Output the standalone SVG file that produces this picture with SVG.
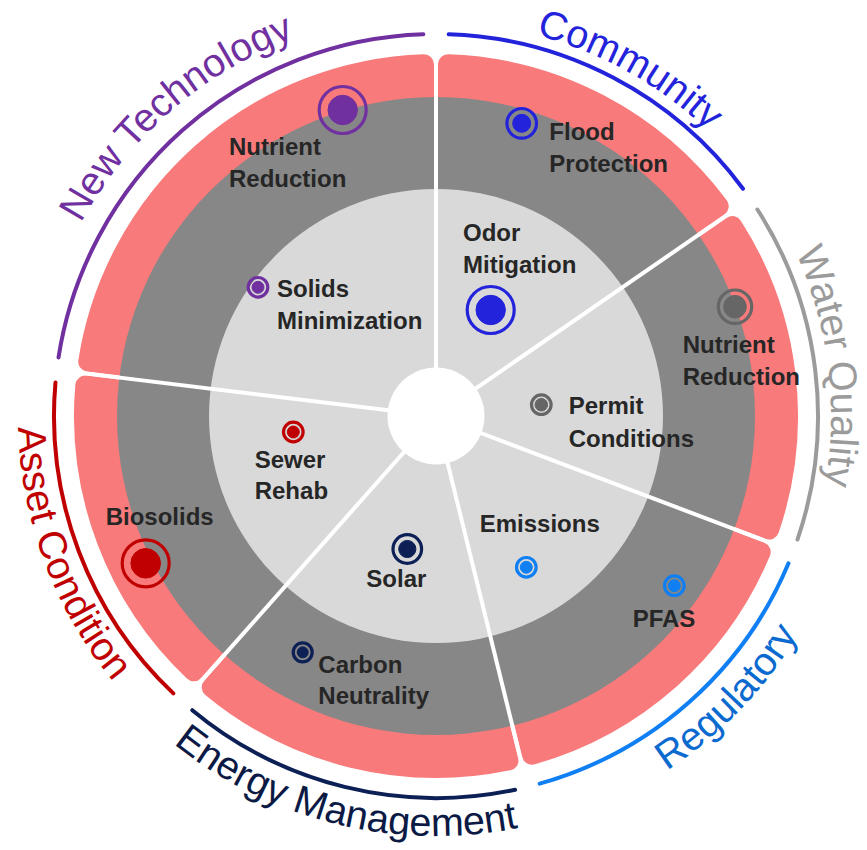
<svg xmlns="http://www.w3.org/2000/svg" xmlns:xlink="http://www.w3.org/1999/xlink" width="867" height="850" viewBox="0 0 867 850">
  <style>
    .wedge { fill: #F97A7A; stroke: #F97A7A; stroke-width: 20; stroke-linejoin: round; }
    .divider { stroke: #FFFFFF; stroke-width: 4; }
    .band { fill: none; stroke-width: 4; stroke-linecap: round; }
    .cat { font-family: "Liberation Sans", Arial, sans-serif; font-size: 39.5px; }
    .lbl { font-family: "Liberation Sans", Arial, sans-serif; font-size: 24px; font-weight: bold; fill: #262626; }
    .ring { fill: none; stroke-width: 3.2; }
    .dot { stroke: none; }
    .nt { fill: #7030A0; stroke: #7030A0; }
    .cm { fill: #2323DC; stroke: #2323DC; }
    .wq { fill: #666666; stroke: #666666; }
    .rg { fill: #0F7FF3; stroke: #0F7FF3; }
    .em { fill: #0C2056; stroke: #0C2056; }
    .ac { fill: #C00000; stroke: #C00000; }
  </style>
  <defs>
    <!-- rounded wedge outlines pointing north, origin at the chart centre -->
    <path id="wedge-s" d="M0 -25.82 L152.86 -317.08 A352 352 0 0 0 -152.86 -317.08 Z"/>
    <path id="wedge-l" d="M0 -18.10 L224.30 -271.28 A352 352 0 0 0 -224.30 -271.28 Z"/>
    <!-- text baselines: clockwise over the top, anticlockwise under the bottom -->
    <path id="top-394" d="M43.5 381.66 A394 394 0 0 1 828.5 381.66"/>
    <path id="top-395" d="M42.5 381.57 A395 395 0 0 1 829.5 381.57"/>
    <path id="top-404" d="M33.54 380.79 A404 404 0 0 1 838.46 380.79"/>
    <path id="bot-423" d="M14.61 452.87 A423 423 0 0 0 857.39 452.87"/>
    <path id="bot-420" d="M17.6 452.61 A420 420 0 0 0 854.4 452.61"/>
    <path id="bot-418" d="M19.59 452.43 A418 418 0 0 0 852.41 452.43"/>
  </defs>

  <rect width="867" height="850" fill="#FFFFFF"/>

  <!-- outer priority band, one wedge per category -->
  <g id="wedges">
    <use xlink:href="#wedge-s" class="wedge" transform="translate(436 416) rotate(27.69)"/>
    <use xlink:href="#wedge-s" class="wedge" transform="translate(436 416) rotate(83.08)"/>
    <use xlink:href="#wedge-s" class="wedge" transform="translate(436 416) rotate(138.46)"/>
    <use xlink:href="#wedge-s" class="wedge" transform="translate(436 416) rotate(193.85)"/>
    <use xlink:href="#wedge-s" class="wedge" transform="translate(436 416) rotate(249.23)"/>
    <use xlink:href="#wedge-l" class="wedge" transform="translate(436 416) rotate(318.46)"/>
  </g>

  <!-- middle and inner bands -->
  <g id="bands">
    <circle cx="436" cy="416" r="319" fill="#878787"/>
    <circle cx="436" cy="416" r="227" fill="#D9D9D9"/>
  </g>

  <!-- category dividers and hub -->
  <g id="connectors">
    <line class="divider" x1="436" y1="416" x2="436" y2="50"/>
    <line class="divider" x1="436" y1="416" x2="737.21" y2="208.09"/>
    <line class="divider" x1="436" y1="416" x2="778.22" y2="545.78"/>
    <line class="divider" x1="436" y1="416" x2="523.59" y2="771.36"/>
    <line class="divider" x1="436" y1="416" x2="193.3" y2="689.95"/>
    <line class="divider" x1="436" y1="416" x2="72.67" y2="371.88"/>
    <circle cx="436" cy="416" r="48.5" fill="#FFFFFF"/>
  </g>

  <!-- category arcs and titles -->
  <g id="cat-community">
    <path class="band" stroke="#2323DC" d="M448.67 34.21 A382 382 0 0 1 743.02 188.69"/>
    <text class="cat" fill="#2323DC" transform="rotate(29.2 436 416)"><textPath xlink:href="#top-394" startOffset="50%" text-anchor="middle">Community</textPath></text>
  </g>
  <g id="cat-water-quality">
    <path class="band" stroke="#9B9B9B" d="M757.4 209.54 A382 382 0 0 1 797.47 539.54"/>
    <text class="cat" fill="#9B9B9B" transform="rotate(82.8 436 416)"><textPath xlink:href="#top-395" startOffset="50%" text-anchor="middle">Water Quality</textPath></text>
  </g>
  <g id="cat-regulatory">
    <path class="band" stroke="#0F7FF3" d="M788.49 563.23 A382 382 0 0 1 539.67 783.7"/>
    <text class="cat" fill="#0B6ACF" transform="rotate(-46 436 416)"><textPath xlink:href="#bot-423" startOffset="50%" text-anchor="middle">Regulatory</textPath></text>
  </g>
  <g id="cat-energy-management">
    <path class="band" stroke="#0C2056" d="M515.07 789.73 A382 382 0 0 1 192.3 710.18"/>
    <text class="cat" fill="#0B1A45" transform="rotate(13.7 436 416)"><textPath xlink:href="#bot-420" startOffset="50%" text-anchor="middle">Energy Management</textPath></text>
  </g>
  <g id="cat-asset-condition">
    <path class="band" stroke="#C00000" d="M173.35 693.37 A382 382 0 0 1 55.47 382.56"/>
    <text class="cat" fill="#C00000" transform="rotate(69.5 436 416)"><textPath xlink:href="#bot-418" startOffset="50%" text-anchor="middle">Asset Condition</textPath></text>
  </g>
  <g id="cat-new-technology">
    <path class="band" stroke="#7030A0" d="M58.52 357.41 A382 382 0 0 1 423.34 34.21"/>
    <text class="cat" fill="#7030A0" transform="rotate(-41 436 416)"><textPath xlink:href="#top-404" startOffset="50%" text-anchor="middle">New Technology</textPath></text>
  </g>

  <!-- items: ring marker plus label -->
  <g id="item-nt-nutrient-reduction">
    <circle class="ring nt" style="fill:none" cx="342.7" cy="110" r="23.5"/>
    <circle class="dot nt" cx="342.7" cy="110" r="14.7"/>
    <text class="lbl" x="229" y="155">Nutrient</text>
    <text class="lbl" x="229" y="187">Reduction</text>
  </g>
  <g id="item-solids-minimization">
    <circle class="ring nt" style="fill:none" cx="258" cy="287.3" r="9.8"/>
    <circle class="dot nt" cx="258" cy="287.3" r="6"/>
    <text class="lbl" x="277" y="296.7">Solids</text>
    <text class="lbl" x="277" y="328.5">Minimization</text>
  </g>
  <g id="item-flood-protection">
    <circle class="ring cm" style="fill:none" cx="521.7" cy="123.3" r="14.8"/>
    <circle class="dot cm" cx="521.7" cy="123.3" r="9"/>
    <text class="lbl" x="549.3" y="139.5">Flood</text>
    <text class="lbl" x="549.3" y="171.7">Protection</text>
  </g>
  <g id="item-odor-mitigation">
    <circle class="ring cm" style="fill:none" cx="490.7" cy="310" r="23.5"/>
    <circle class="dot cm" cx="490.7" cy="310" r="14.7"/>
    <text class="lbl" x="463" y="240.5">Odor</text>
    <text class="lbl" x="463" y="272.7">Mitigation</text>
  </g>
  <g id="item-wq-nutrient-reduction">
    <circle class="ring wq" style="fill:none" cx="735" cy="306.7" r="16.7"/>
    <circle class="dot wq" cx="735" cy="306.7" r="11.3"/>
    <text class="lbl" x="682.7" y="352.7">Nutrient</text>
    <text class="lbl" x="682.7" y="385">Reduction</text>
  </g>
  <g id="item-permit-conditions">
    <circle class="ring wq" style="fill:none" cx="541.3" cy="404.7" r="9.8"/>
    <circle class="dot wq" cx="541.3" cy="404.7" r="6.3"/>
    <text class="lbl" x="568.7" y="414.3">Permit</text>
    <text class="lbl" x="568.7" y="446.5">Conditions</text>
  </g>
  <g id="item-emissions">
    <circle class="ring rg" style="fill:none" cx="526.3" cy="567.3" r="9.8"/>
    <circle class="dot rg" cx="526.3" cy="567.3" r="6"/>
    <text class="lbl" x="479.7" y="532.3">Emissions</text>
  </g>
  <g id="item-pfas">
    <circle class="ring rg" style="fill:none" cx="674.3" cy="585.7" r="9.8"/>
    <circle class="dot rg" cx="674.3" cy="585.7" r="6"/>
    <text class="lbl" x="632.7" y="627.3">PFAS</text>
  </g>
  <g id="item-solar">
    <circle class="ring em" style="fill:none" cx="407.3" cy="549" r="14.3"/>
    <circle class="dot em" cx="407.3" cy="549" r="8.6"/>
    <text class="lbl" x="366.3" y="587.3">Solar</text>
  </g>
  <g id="item-carbon-neutrality">
    <circle class="ring em" style="fill:none" cx="302.7" cy="652.3" r="9.5"/>
    <circle class="dot em" cx="302.7" cy="652.3" r="5.5"/>
    <text class="lbl" x="318.3" y="673">Carbon</text>
    <text class="lbl" x="318.3" y="704.3">Neutrality</text>
  </g>
  <g id="item-biosolids">
    <circle class="ring ac" style="fill:none" cx="145.7" cy="563.3" r="23.5"/>
    <circle class="dot ac" cx="145.7" cy="563.3" r="14.8"/>
    <text class="lbl" x="105.7" y="525.3">Biosolids</text>
  </g>
  <g id="item-sewer-rehab">
    <circle class="ring ac" style="fill:none" cx="293.3" cy="432" r="9.8"/>
    <circle class="dot ac" cx="293.3" cy="432" r="6"/>
    <text class="lbl" x="254.7" y="467.7">Sewer</text>
    <text class="lbl" x="254.7" y="498.7">Rehab</text>
  </g>
</svg>
